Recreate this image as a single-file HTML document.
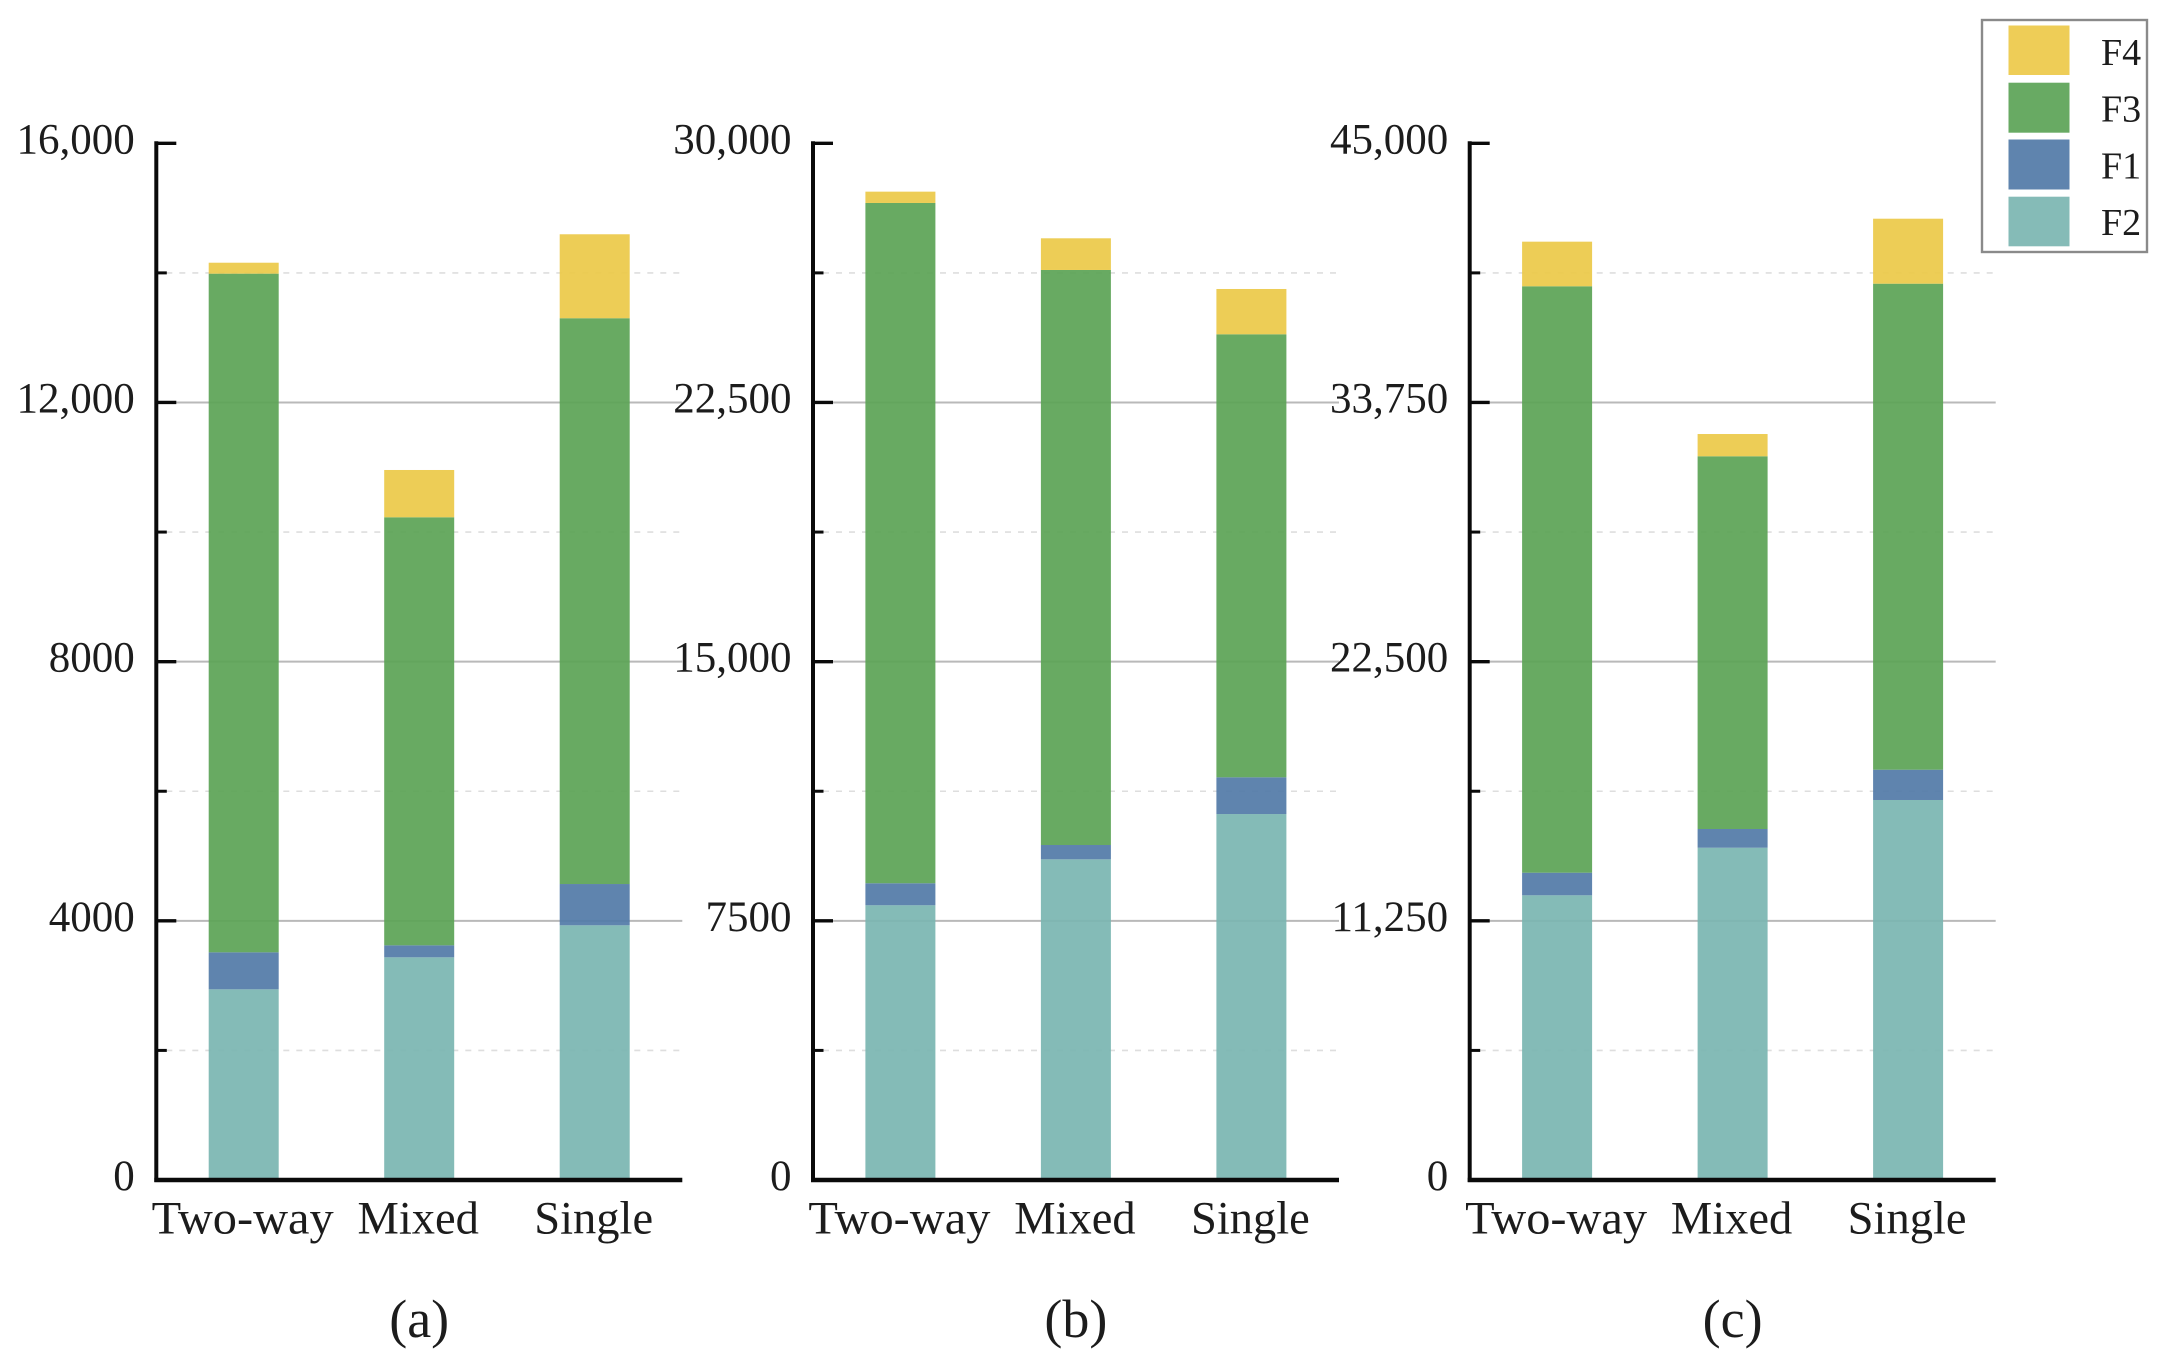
<!DOCTYPE html>
<html lang="en">
<head>
<meta charset="utf-8">
<title>Stacked bars by road type</title>
<style>
html,body{margin:0;padding:0;background:#fff;}
svg{display:block;}
text{font-family:"Liberation Serif",serif;fill:#1c1c1c;}
</style>
</head>
<body>
<svg id="chart" xmlns="http://www.w3.org/2000/svg" width="2166" height="1366" viewBox="0 0 2166 1366">
  <rect x="0" y="0" width="2166" height="1366" fill="#fff"/>
  <g>
    <rect x="1982" y="20" width="165" height="232" fill="#fff" stroke="#8a8a8a" stroke-width="2.4"/>
    <rect x="2008.5" y="25.5" width="61" height="49.5" fill="#EECD57"/>
    <rect x="2008.5" y="82.7" width="61" height="50" fill="#68AA63"/>
    <rect x="2008.5" y="139.5" width="61" height="50" fill="#5F84AE"/>
    <rect x="2008.5" y="196.7" width="61" height="49.6" fill="#85BBB7"/>
    <text x="2101" y="65" font-size="38">F4</text>
    <text x="2101" y="121.5" font-size="38">F3</text>
    <text x="2101" y="178.5" font-size="38">F1</text>
    <text x="2101" y="235" font-size="38">F2</text>
  </g>
</svg>
<script>
const categories = ["Two-way", "Mixed", "Single"];
const captions = ["(a)", "(b)", "(c)"];

const axisMaxA = 16000;
const tickLabelsA = ["0", "4000", "8000", "12,000", "16,000"];
const f2A = [2943, 3437, 3931];
const f1A = [571, 185, 637];
const f3A = [10474, 6606, 8732];
const f4A = [169, 730, 1296];

const axisMaxB = 30000;
const tickLabelsB = ["0", "7500", "15,000", "22,500", "30,000"];
const f2B = [7950, 9280, 10590];
const f1B = [637, 414, 1063];
const f3B = [19686, 16640, 12820];
const f4B = [328, 917, 1311];

const axisMaxC = 45000;
const tickLabelsC = ["0", "11,250", "22,500", "33,750", "45,000"];
const f2C = [12358, 14424, 16495];
const f1C = [981, 812, 1315];
const f3C = [25454, 16178, 21096];
const f4C = [1937, 967, 2821];

const SVG_NS = "http://www.w3.org/2000/svg";
const chart = document.getElementById("chart");
const Y_ZERO = 1180;
const Y_SPAN = 1036.7;
const AXIS_LEN = 526;
const BAR_W = 70;

function panelLeft(p) { return 156.3 + 656.7 * p; }
function yScale(value, max) { return Y_ZERO - (value / max) * Y_SPAN; }
function xCenter(p, i) { return panelLeft(p) + 87.4 + 175.5 * i; }

function make(tag, attrs, parent) {
  const el = document.createElementNS(SVG_NS, tag);
  for (const k in attrs) el.setAttribute(k, attrs[k]);
  parent.appendChild(el);
  return el;
}

function drawPanel(p, letter, max, tickLabels, f2, f1, f3, f4) {
  const left = panelLeft(p);
  const group = make("g", {}, chart);
  
  

  for (let k = 1; k <= 8; k++) {
    const y = yScale(max * k / 8, max);
    const major = k % 2 === 0;
    if (k < 8) {
      const grid = make("line", {
        x1: left + 10, x2: left + AXIS_LEN, y1: y, y2: y,
        stroke: major ? "#b9b9b9" : "#dedede",
        "stroke-width": major ? 2 : 1.6,
        "stroke-dasharray": major ? "none" : "6 7"
      }, group);
      
      
    }
  }

  const seriesOrder = [
    { name: "f2", values: f2, fill: "#7AB5B1" },
    { name: "f1", values: f1, fill: "#5179A7" },
    { name: "f3", values: f3, fill: "#5BA355" },
    { name: "f4", values: f4, fill: "#ECC948" }
  ];
  categories.forEach(function (cat, i) {
    let base = 0;
    seriesOrder.forEach(function (s) {
      const top = base + s.values[i];
      const yTop = yScale(top, max);
      const yBase = yScale(base, max);
      const bar = make("rect", {
        x: xCenter(p, i) - BAR_W / 2, y: yTop, width: BAR_W, height: yBase - yTop,
        fill: s.fill, "fill-opacity": 0.92
      }, group);
      
      
      base = top;
    });
  });

  const yAxis = make("line", { x1: left, x2: left, y1: yScale(max, max) - 2, y2: Y_ZERO + 2, stroke: "#0a0a0a", "stroke-width": 4 }, group);
  
  
  const xAxis = make("line", { x1: left - 2, x2: left + AXIS_LEN, y1: Y_ZERO, y2: Y_ZERO, stroke: "#0a0a0a", "stroke-width": 4.4 }, group);
  
  

  for (let k = 1; k <= 8; k++) {
    const y = yScale(max * k / 8, max);
    const major = k % 2 === 0;
    const tick = make("line", { x1: left, x2: left + (major ? 20 : 10.5), y1: y, y2: y, stroke: "#0a0a0a", "stroke-width": major ? 3.4 : 3 }, group);
    
    
  }

  tickLabels.forEach(function (label, j) {
    const t = make("text", { x: left - 21.5, y: yScale(max * j / 4, max) + 10, "font-size": 43, "text-anchor": "end" }, group);
    t.textContent = label;
    
    
  });

  categories.forEach(function (cat, i) {
    const t = make("text", { x: xCenter(p, i) - 1, y: 1233.5, "font-size": 46.5, "text-anchor": "middle" }, group);
    if (i === 0) {
      t.setAttribute("textLength", "182");
      t.setAttribute("lengthAdjust", "spacingAndGlyphs");
    }
    t.textContent = cat;
    
    
  });

  const cap = make("text", { x: xCenter(p, 1), y: 1337, "font-size": 54, "text-anchor": "middle" }, group);
  cap.textContent = captions[p];
  
  
}

drawPanel(0, "a", axisMaxA, tickLabelsA, f2A, f1A, f3A, f4A);
drawPanel(1, "b", axisMaxB, tickLabelsB, f2B, f1B, f3B, f4B);
drawPanel(2, "c", axisMaxC, tickLabelsC, f2C, f1C, f3C, f4C);
</script>
</body>
</html>
